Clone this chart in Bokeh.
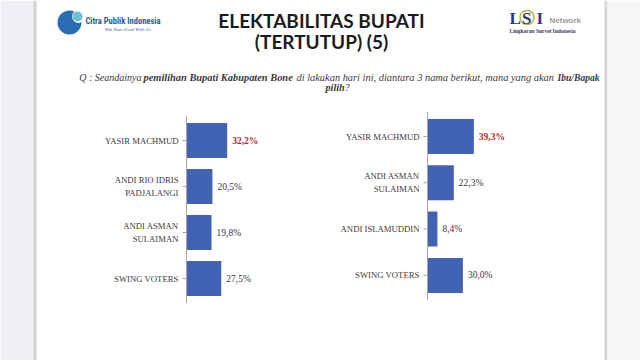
from bokeh.plotting import figure
from bokeh.models import Range1d
from bokeh.core.properties import value
from bokeh.embed import file_html
from bokeh.resources import INLINE

# ---------------- data ----------------
left_categories = ["YASIR MACHMUD", "ANDI RIO IDRIS\nPADJALANGI", "ANDI ASMAN\nSULAIMAN", "SWING VOTERS"]
left_values = [32.2, 20.5, 19.8, 27.5]

right_categories = ["YASIR MACHMUD", "ANDI ASMAN\nSULAIMAN", "ANDI ISLAMUDDIN", "SWING VOTERS"]
right_values = [39.3, 22.3, 8.4, 30.0]

title_lines = ["ELEKTABILITAS BUPATI", "(TERTUTUP) (5)"]
# (text, style, x, align, size)
question_line1 = [
    ("Q : Seandainya", "italic", 141, "right", "10px"),
    ("pemilihan Bupati Kabupaten Bone", "bold italic", 143, "left", "10.4px"),
    ("di lakukan hari ini, diantara 3 nama berikut, mana yang akan", "italic", 296, "left", "10.4px"),
    ("Ibu/Bapak", "bold italic", 557, "left", "9.6px"),
]
question_line2 = [("pilih", "bold italic", 325, "left", "10.2px"), ("?", "italic", 344, "left", "10.2px")]

BAR = "#4262b4"
RED = "#c0272d"
TXT = "#3a3a3a"
SERIF = value("Liberation Serif")

W, H = 640, 360
p = figure(width=W, height=H, x_range=Range1d(0, W), y_range=Range1d(H, 0),
           output_backend="svg", toolbar_location=None, x_axis_type=None, y_axis_type=None,
           min_border=0, outline_line_color=None, background_fill_color="white",
           border_fill_color="white")
p.xgrid.visible = False
p.ygrid.visible = False

# slide background / borders
p.quad(left=[0], right=[33], bottom=[H], top=[0], fill_color="#eef0f3", line_color=None)
p.quad(left=[33], right=[36], bottom=[H], top=[0], fill_color="#d2d2d2", line_color=None)
p.quad(left=[604], right=[607], bottom=[H], top=[0], fill_color="#d6d6d6", line_color=None)
p.quad(left=[607], right=[W], bottom=[H], top=[0], fill_color="#f6f6f6", line_color=None)

# ---------------- title ----------------
p.text(x=[321, 321], y=[20, 41], text=title_lines, text_align="center", text_baseline="middle",
       text_font=value("Lato"), text_font_style="bold", text_font_size="19px", text_color="#1c1c1c")

# ---------------- question ----------------
for line, yy in ((question_line1, 77), (question_line2, 87)):
    for seg, style, x, align, size in line:
        p.text(x=[x], y=[yy], text=[seg], text_align=align, text_baseline="middle", text_font=SERIF,
               text_font_style=style, text_font_size=size, text_color=TXT)

# ---------------- logos ----------------
p.circle(x=[69], y=[22], radius=12, fill_color="#2a6db3", line_color=None)
p.circle(x=[78], y=[16], radius=6.5, fill_color="white", line_color=None)
p.circle(x=[77], y=[16], radius=5, fill_color="#6fc0cf", line_color=None)
p.text(x=[85], y=[20], text=["Citra Publik Indonesia"], text_align="left", text_baseline="middle",
       text_font=value("'Roboto Condensed', 'Liberation Sans Narrow', 'DejaVu Sans Condensed', Roboto"),
       text_font_style="bold", text_font_size="8.5px", text_color="#2b5ba3")
p.text(x=[104], y=[29], text=["Win Your Goal With Us"], text_align="left", text_baseline="middle",
       text_font=SERIF, text_font_style="italic", text_font_size="5px", text_color="#2b5ba3")

p.circle(x=[526.5], y=[17], radius=7, fill_color=None, line_color="#b8b640", line_width=1.5)
p.text(x=[509, 521.5, 536], y=[18, 18, 18], text=["L", "S", "I"], text_align="left",
       text_baseline="middle", text_font=SERIF, text_font_style="bold", text_font_size="17px",
       text_color="#2a3a7c")
p.text(x=[549], y=[20], text=["Network"], text_align="left", text_baseline="middle",
       text_font=value("Liberation Sans"), text_font_style="bold", text_font_size="8px",
       text_color="#9a9a9a")
p.text(x=[509], y=[30], text=["Lingkaran Survei Indonesia"], text_align="left", text_baseline="middle",
       text_font=SERIF, text_font_style="bold", text_font_size="5.5px", text_color="#3a3a5a")


# ---------------- bar charts ----------------
def bar_chart(name, categories, values, axis_px, px_per_unit, first_center_px, step_px):
    xr = Range1d((0 - axis_px) / px_per_unit, (W - axis_px) / px_per_unit)
    yr = Range1d((H - first_center_px) / step_px, (0 - first_center_px) / step_px)
    p.extra_x_ranges[name + "x"] = xr
    p.extra_y_ranges[name + "y"] = yr
    kw = dict(x_range_name=name + "x", y_range_name=name + "y")
    n = len(categories)
    ys = list(range(n))
    p.hbar(y=ys, left=0, right=values, height=35 / step_px, fill_color=BAR, line_color=None, **kw)
    # axis line and ticks
    p.segment(x0=[0], y0=[-0.53], x1=[0], y1=[n - 1 + 0.53], line_color="#a6a6a6", line_width=1, **kw)
    p.segment(x0=[-4 / px_per_unit] * n, y0=ys, x1=[0] * n, y1=ys, line_color="#a6a6a6",
              line_width=1, **kw)
    # category labels
    p.text(x=[-8 / px_per_unit] * n, y=ys, text=categories, text_align="right", text_baseline="middle",
           text_font=SERIF, text_font_size="8.7px", text_color=TXT, text_line_height=1.3, **kw)
    # value labels
    top = values.index(max(values))
    labels = [f"{v:.1f}".replace(".", ",") + "%" for v in values]
    for i, (v, lab) in enumerate(zip(values, labels)):
        p.text(x=[v], y=[i], text=[lab], x_offset=5, text_align="left", text_baseline="middle",
               text_font=SERIF, text_font_size="9.5px",
               text_font_style="bold" if i == top else "normal",
               text_color=RED if i == top else TXT, **kw)


bar_chart("l", left_categories, left_values, 186, 1.264, 140, 46)
bar_chart("r", right_categories, right_values, 427, 1.18, 136, 46.3)

open("out.html", "w").write(file_html(p, INLINE))
